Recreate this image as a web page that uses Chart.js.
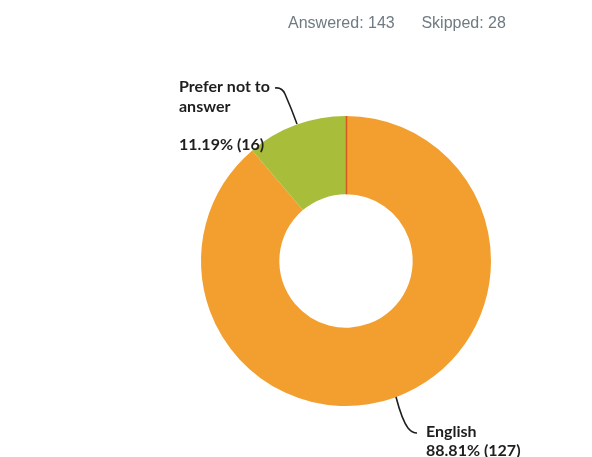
<!DOCTYPE html>
<html>
<head>
<meta charset="utf-8">
<script src="https://cdn.jsdelivr.net/npm/chart.js@4"></script>
<style>
  html, body { margin: 0; padding: 0; background: #fff; }
  #wrap { position: relative; width: 592px; height: 457px; }
  #stats {
    position: absolute; top: 14px; left: 288px;
    font: 16px "Liberation Sans", Arial, sans-serif; color: #6f7a82;
    white-space: pre;
  }
</style>
</head>
<body>
<div id="wrap">
  <canvas id="chartCanvas" width="592" height="457"></canvas>
  <div id="stats">Answered: 143      Skipped: 28</div>
</div>
<script>
// answer choices and response counts
const categories = ['English', 'Prefer not to answer'];
const counts = [127, 16];
const percents = ['88.81%', '11.19%'];
const COLORS = ['#f29f30', '#a8bd3a'];

// draws the outside labels with their leader lines
const labelPlugin = {
  id: 'outsideLabels',
  afterDatasetDraw(chart) {
    const ctx = chart.ctx;
    const arcs = chart.getDatasetMeta(0).data;
    const first = arcs[0];

    // thin dark edge where the first slice starts
    ctx.save();
    ctx.strokeStyle = '#d4581f';
    ctx.lineWidth = 1.5;
    const a = first.startAngle;
    ctx.beginPath();
    ctx.moveTo(first.x + Math.cos(a) * first.innerRadius + 0.5, first.y + Math.sin(a) * first.innerRadius);
    ctx.lineTo(first.x + Math.cos(a) * first.outerRadius + 0.5, first.y + Math.sin(a) * first.outerRadius);
    ctx.stroke();
    ctx.restore();
  },
  afterDraw(chart) {
    const ctx = chart.ctx;
    ctx.save();
    ctx.fillStyle = '#1e1e1e';
    ctx.textBaseline = 'alphabetic';
    ctx.font = 'bold 16px Lato, "Open Sans", sans-serif';

    // Prefer not to answer
    ctx.fillText('Prefer not to', 179, 92);
    ctx.fillText('answer', 179, 112);
    ctx.fillText(percents[1] + ' (' + counts[1] + ')', 179, 150);

    // English
    ctx.fillText(categories[0], 426, 437);
    ctx.fillText(percents[0] + ' (' + counts[0] + ')', 426, 456);

    ctx.strokeStyle = '#1e1e1e';
    ctx.lineWidth = 1.6;
    ctx.beginPath();
    ctx.moveTo(275, 88);
    ctx.quadraticCurveTo(282, 87, 285, 94);
    ctx.quadraticCurveTo(292, 110, 297, 124);
    ctx.stroke();

    ctx.beginPath();
    ctx.moveTo(396, 397);
    ctx.quadraticCurveTo(402, 420, 408, 428);
    ctx.quadraticCurveTo(412, 433, 417, 433);
    ctx.stroke();
    ctx.restore();
  }
};

new Chart(document.getElementById('chartCanvas'), {
  type: 'doughnut',
  data: {
    labels: categories,
    datasets: [{
      data: counts,
      backgroundColor: COLORS,
      borderWidth: 0
    }]
  },
  options: {
    responsive: false,
    animation: false,
    cutout: '46%',
    layout: { padding: { left: 201, top: 116, right: 101, bottom: 51 } },
    plugins: {
      legend: { display: false },
      tooltip: { enabled: false }
    }
  },
  plugins: [labelPlugin]
});
</script>
</body>
</html>
